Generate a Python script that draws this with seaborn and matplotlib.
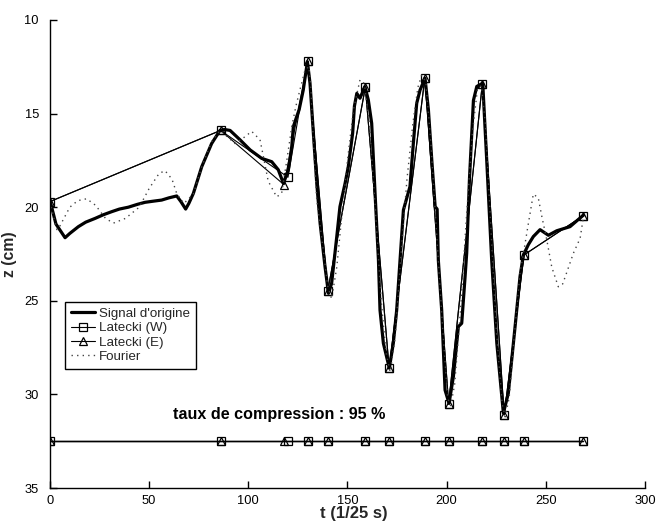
import matplotlib
matplotlib.use("Agg")
import matplotlib.pyplot as plt
import seaborn as sns

# Signal d'origine (t en 1/25 s, z en cm)
t_signal = [0, 3, 7.6, 10, 14.3, 18, 22.7, 27, 31.1, 35, 39.5, 44, 47.9, 52, 56.3, 60,
            63.9, 66, 68.4, 70, 72.3, 76.5, 81.5, 85.7, 88, 90.8, 95.8, 100.9, 106.7,
            111.8, 115.1, 117.7, 120.2, 121.9, 122.7, 124.4, 125.6, 127.7, 129.8, 131.1,
            132.8, 134.5, 136.2, 138.7, 140.4, 142, 144.6, 146.2, 148.8, 150.4, 152.6,
            153.5, 154.7, 156.3, 158.8, 160.5, 162.2, 163.9, 165.6, 166.4, 168.1, 171.1,
            173.1, 174.8, 178.2, 181.5, 183.2, 184.9, 186.6, 189.1, 190.8, 192.5, 194.2,
            195.2, 195.8, 197.5, 199.2, 201.2, 203.4, 205.9, 207.6, 209.3, 210.1, 211.5,
            213.5, 215.2, 218.2, 220.2, 222.7, 225.3, 228.6, 231.1, 234.5, 237, 238.7,
            241.2, 243.7, 247.1, 251.3, 255.5, 262.2, 269]
z_signal = [19.65, 20.9, 21.63, 21.4, 21.04, 20.8, 20.6, 20.4, 20.24, 20.1, 20.0, 19.85,
            19.74, 19.68, 19.62, 19.5, 19.4, 19.7, 20.1, 19.8, 19.26, 17.84, 16.6, 15.9,
            15.85, 15.9, 16.4, 16.94, 17.39, 17.57, 18.0, 18.73, 18.0, 16.77, 15.7, 15.16,
            14.8, 13.74, 12.23, 13.38, 16.05, 18.72, 20.86, 23.2, 24.6, 24.07, 21.57,
            19.97, 18.72, 17.84, 16.05, 14.6, 13.92, 14.18, 13.56, 14.27, 15.52, 19.26,
            22.8, 25.5, 27.27, 28.6, 27.27, 25.5, 20.15, 18.9, 16.6, 14.45, 13.74, 13.11,
            14.8, 17.48, 19.97, 20.1, 22.82, 25.5, 29.77, 30.48, 29.05, 26.38, 26.2, 23.7,
            22.46, 18.5, 14.3, 13.55, 13.38, 17.48, 22.8, 27.27, 31.0, 29.94, 26.38, 23.7,
            22.55, 22.0, 21.57, 21.2, 21.5, 21.26, 21.04, 20.42]

# Latecki (W) : points retenus
t_latecki_w = [0, 86, 120, 130, 140, 159, 171, 189, 201, 218, 229, 239, 269]
z_latecki_w = [19.7, 15.9, 18.4, 12.2, 24.5, 13.6, 28.6, 13.1, 30.5, 13.4, 31.1, 22.55, 20.45]

# Latecki (E) : points retenus
t_latecki_e = [0, 86, 118, 130, 140, 159, 171, 189, 201, 218, 229, 239, 269]
z_latecki_e = [19.7, 15.9, 18.8, 12.2, 24.5, 13.6, 28.6, 13.1, 30.5, 13.4, 31.1, 22.55, 20.45]

# Approximation de Fourier
t_fourier = [0, 2, 3.5, 5, 7, 10, 14, 18.5, 23, 28, 32, 38, 45, 50, 55, 58, 61.5, 64,
             67.5, 72.3, 76.5, 81.5, 85.7, 89, 93.3, 97.5, 101.7, 105.9, 107.6, 110, 112,
             114.3, 116.8, 119.4, 121.9, 124, 126, 128.6, 130.5, 131.5, 132.8, 134.5,
             137.8, 140, 142, 144.6, 147.1, 150, 153, 156.3, 158.5, 161, 164, 167, 169.5,
             171.5, 174, 177, 180, 183, 185.5, 187.4, 189.5, 192, 195, 198, 200.5, 202,
             204, 207, 210, 213, 215.5, 217.5, 219.5, 222, 225, 228, 229.5, 231.5, 234,
             237, 239, 241, 243.7, 246.2, 248, 250.5, 253, 256.3, 258.5, 260.5, 263.9,
             267.3, 269]
z_fourier = [19.7, 20.6, 21.2, 21.0, 20.6, 20.0, 19.65, 19.55, 19.9, 20.6, 20.85, 20.6,
             20.0, 19.0, 18.2, 18.05, 18.5, 19.3, 19.8, 19.3, 17.84, 16.5, 15.9, 16.2,
             16.6, 16.3, 15.95, 16.4, 17.3, 18.6, 19.0, 19.45, 19.26, 17.5, 15.7, 14.6,
             13.74, 12.67, 12.5, 13.5, 16.5, 19.6, 22.3, 24.2, 24.9, 23.2, 20.5, 17.5,
             14.8, 13.2, 13.4, 15.5, 20.0, 25.0, 27.8, 28.8, 27.0, 22.5, 18.5, 15.5, 13.6,
             12.95, 13.3, 16.5, 21.5, 26.5, 30.2, 30.6, 29.5, 25.5, 20.5, 16.0, 13.7, 13.5,
             15.5, 20.5, 26.5, 30.5, 31.2, 30.2, 27.0, 23.5, 22.3, 21.0, 19.3, 19.5, 20.5,
             21.75, 23.2, 24.25, 24.1, 23.5, 22.46, 21.66, 20.5]

# niveau de la rangee des instants retenus
niveau_points = 32.5

sns.set_theme(style="ticks")
plt.rcParams["font.family"] = ["Liberation Sans", "DejaVu Sans"]

fig, ax = plt.subplots(figsize=(6.57, 5.23), dpi=100)
fig.subplots_adjust(left=0.0761, right=0.9817, top=0.9618, bottom=0.0669)

sns.lineplot(x=t_signal, y=z_signal, ax=ax, color="black", linewidth=2.3,
             sort=False, estimator=None, label="Signal d'origine")
sns.lineplot(x=t_latecki_w, y=z_latecki_w, ax=ax, color="black", linewidth=0.8,
             marker="s", markersize=5.2, markerfacecolor="none", markeredgecolor="black",
             markeredgewidth=0.9, sort=False, estimator=None, label="Latecki (W)")
sns.lineplot(x=t_latecki_e, y=z_latecki_e, ax=ax, color="black", linewidth=0.8,
             marker="^", markersize=6, markerfacecolor="none", markeredgecolor="black",
             markeredgewidth=0.9, sort=False, estimator=None, label="Latecki (E)")
sns.lineplot(x=t_fourier, y=z_fourier, ax=ax, color="#444444", linewidth=1.0,
             linestyle=(0, (1, 3)), sort=False, estimator=None, label="Fourier")

# rangee des instants retenus
sns.lineplot(x=t_latecki_w, y=[niveau_points] * len(t_latecki_w), ax=ax, color="black",
             linewidth=1.0, marker="s", markersize=5.2, markerfacecolor="none",
             markeredgecolor="black", markeredgewidth=0.9, sort=False, estimator=None,
             label="_nolegend_")
sns.lineplot(x=t_latecki_e, y=[niveau_points] * len(t_latecki_e), ax=ax, color="black",
             linewidth=1.0, marker="^", markersize=6, markerfacecolor="none",
             markeredgecolor="black", markeredgewidth=0.9, sort=False, estimator=None,
             label="_nolegend_")

ax.text(115.4, 31.1, "taux de compression : 95 %", ha="center", va="center",
        fontsize=11.6, fontweight="bold", color="black")

ax.set_xlim(0, 300)
ax.set_ylim(35, 10)
ax.set_xticks(range(0, 301, 50))
ax.set_yticks(range(10, 36, 5))
ax.set_xlabel("t (1/25 s)", fontsize=12, fontweight="bold", labelpad=-1, x=0.51)
ax.set_ylabel("z (cm)", fontsize=11.3, fontweight="bold", labelpad=5)
ax.tick_params(axis="both", direction="in", length=5, width=1, labelsize=9.3,
               colors="black")
ax.tick_params(axis="x", pad=5)
ax.tick_params(axis="y", pad=8)
for s in ["left", "bottom"]:
    ax.spines[s].set_color("black")
    ax.spines[s].set_linewidth(1)
sns.despine(ax=ax)

leg = ax.legend(loc="upper left", bbox_to_anchor=(0.026, 0.398), borderaxespad=0,
                fontsize=9.6, frameon=True, fancybox=False, edgecolor="black",
                framealpha=1, handlelength=1.8, handletextpad=0.25,
                labelspacing=0.15, borderpad=0.45)
leg.get_frame().set_linewidth(1)

fig.savefig("out.png", dpi=100)
